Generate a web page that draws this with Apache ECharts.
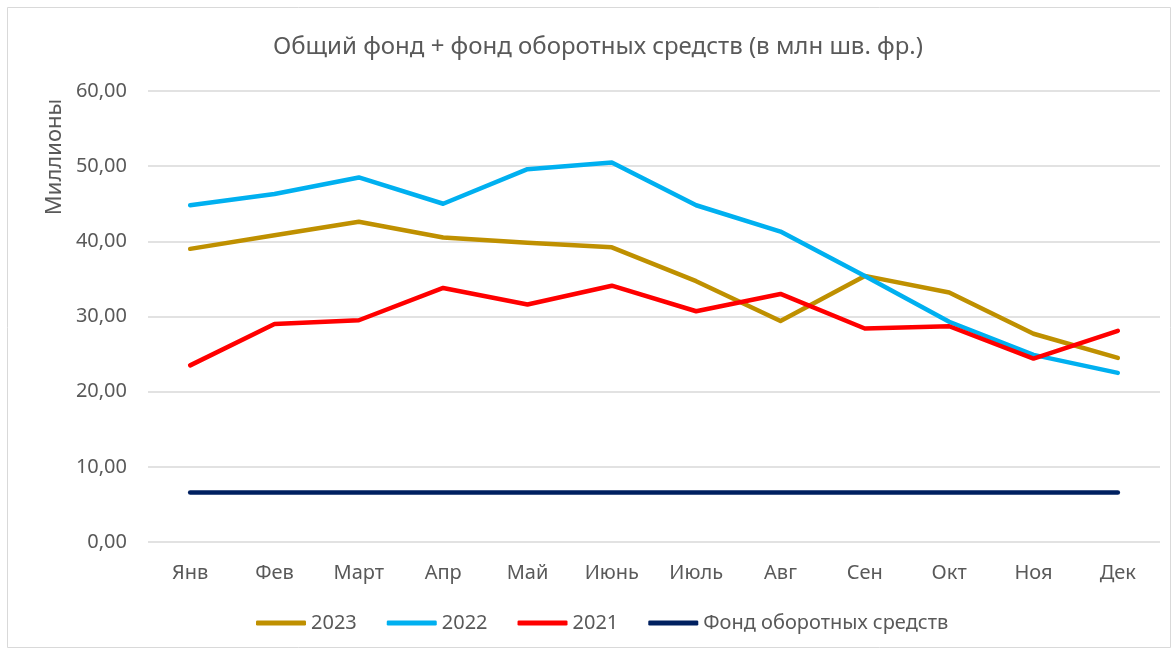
<!DOCTYPE html>
<html>
<head>
<meta charset="utf-8">
<script src="https://cdn.jsdelivr.net/npm/echarts@6/dist/echarts.min.js"></script>
<style>
  html, body { margin: 0; padding: 0; background: #fff; }
  #chart { width: 1174px; height: 652px; }
</style>
</head>
<body>
<div id="chart"></div>
<script>
// месяцы
var months = ['Янв', 'Фев', 'Март', 'Апр', 'Май', 'Июнь', 'Июль', 'Авг', 'Сен', 'Окт', 'Ноя', 'Дек'];

// значения (млн шв. фр.)
var data2023 = [39.0, 40.8, 42.6, 40.5, 39.8, 39.2, 34.7, 29.4, 35.4, 33.2, 27.7, 24.5];
var data2022 = [44.8, 46.3, 48.5, 45.0, 49.6, 50.5, 44.8, 41.3, 35.4, 29.3, 24.9, 22.5];
var data2021 = [23.5, 29.0, 29.5, 33.8, 31.6, 34.1, 30.7, 33.0, 28.4, 28.7, 24.4, 28.1];
var dataFund = [6.6, 6.6, 6.6, 6.6, 6.6, 6.6, 6.6, 6.6, 6.6, 6.6, 6.6, 6.6];

var seriesNames = ['2023', '2022', '2021', 'Фонд оборотных средств'];
var seriesColors = ['#BF9000', '#00B0F0', '#FF0000', '#002060'];

var font = "'Noto Sans', sans-serif";

function line(name, data, color) {
	return {
		name: name,
		type: 'line',
		data: data,
		symbol: 'none',
		lineStyle: { color: color, width: 4.5, cap: 'round', join: 'round' },
		itemStyle: { color: color }
	};
}

var option = {
	backgroundColor: '#fff',
	animation: false,
	title: {
		text: 'Общий фонд + фонд оборотных средств (в млн шв. фр.)',
		left: 268,
		top: 30,
		textStyle: { fontFamily: font, fontSize: 24, fontWeight: 'normal', color: '#595959' }
	},
	graphic: [
		{
			type: 'rect',
			shape: { x: 7.5, y: 7.5, width: 1163, height: 640 },
			style: { fill: 'none', stroke: '#d9d9d9', lineWidth: 1 }
		},
		{
			// подпись оси Y
			type: 'text',
			x: 55, y: 157,
			rotation: Math.PI / 2,
			style: {
				text: 'Миллионы',
				fontFamily: font, fontSize: 22, fill: '#595959',
				align: 'center', verticalAlign: 'middle'
			}
		}
	],
	legend: {
		bottom: 14,
		left: 251,
		itemWidth: 50,
		itemHeight: 5,
		itemGap: 30,
		icon: 'roundRect',
		textStyle: { fontFamily: font, fontSize: 20, color: '#595959' },
		data: seriesNames
	},
	grid: { left: 148, right: 14, top: 91, bottom: 110, containLabel: false },
	xAxis: {
		type: 'category',
		data: months,
		boundaryGap: true,
		axisLine: { show: false },
		axisTick: { show: false },
		axisLabel: { fontFamily: font, fontSize: 20, color: '#595959', margin: 21 }
	},
	yAxis: {
		type: 'value',
		min: 0,
		max: 60,
		interval: 10,
		axisLine: { show: false },
		axisTick: { show: false },
		splitLine: { lineStyle: { color: '#d9d9d9', width: 1.5 } },
		axisLabel: {
			fontFamily: font, fontSize: 20, color: '#595959', margin: 21,
			formatter: function (v) { return v.toFixed(2).replace('.', ','); }
		}
	},
	series: [
		line(seriesNames[0], data2023, seriesColors[0]),
		line(seriesNames[1], data2022, seriesColors[1]),
		line(seriesNames[2], data2021, seriesColors[2]),
		line(seriesNames[3], dataFund, seriesColors[3])
	]
};

var myChart = echarts.init(document.getElementById('chart'));
myChart.setOption(option);
</script>
</body>
</html>
